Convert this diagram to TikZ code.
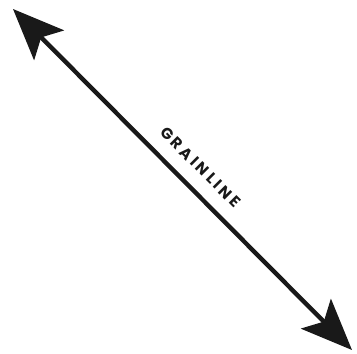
\documentclass[tikz,border=0pt]{standalone}
\usepackage{fontspec}
\newfontfamily\grainfont[LetterSpace=20]{Poppins}
\usetikzlibrary{arrows.meta}

\begin{document}
\begin{tikzpicture}[
  x=1pt, y=-1pt,
  grain/.style={{Stealth[length=51pt,width=42pt,inset=11pt]}-{Stealth[length=51pt,width=42pt,inset=11pt]}, line width=4.4pt, black!90},
  lbl/.style={font=\grainfont\bfseries\fontsize{15.5}{15.5}\selectfont, text=black!90, rotate=-45, inner sep=0pt},
]
\useasboundingbox (0,0) rectangle (357,354);

%% --- ends of the grain line ------------------------------------------
\coordinate (TopEnd) at (13,9);
\coordinate (BotEnd) at (352,350);

\draw[grain] (TopEnd) -- (BotEnd);

%% --- label -----------------------------------------------------------
\node[lbl] (GrainLbl) at (200.5,167) {GRAINLINE};

\end{tikzpicture}
\end{document}
